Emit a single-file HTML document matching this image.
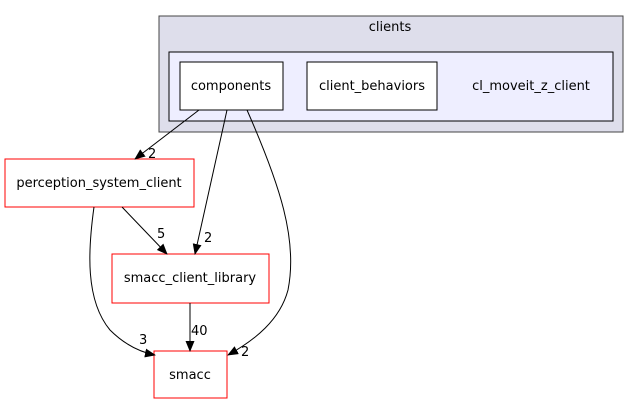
<!DOCTYPE html>
<html><head><meta charset="utf-8"><style>
html,body{margin:0;padding:0;background:#fff;}
svg{display:block;}
text{font-family:"DejaVu Sans","Liberation Sans",sans-serif;font-size:13px;fill:#000;}
</style></head><body>
<svg width="640" height="404" viewBox="0 0 640 404" xmlns="http://www.w3.org/2000/svg">
<defs><marker id="a" markerWidth="11" markerHeight="9" refX="10" refY="4.5" orient="auto" markerUnits="userSpaceOnUse"><path d="M0,0 L11,4.5 L0,9 z" fill="#000"/></marker></defs>
<rect x="159" y="16" width="464" height="116" fill="#dedeeb" stroke="#444" stroke-width="1"/>
<text x="390" y="31" text-anchor="middle" font-size="12">clients</text>
<rect x="169" y="52" width="444" height="69" fill="#eeeeff" stroke="#000"/>
<text x="531" y="90" text-anchor="middle">cl_moveit_z_client</text>
<rect x="180" y="62" width="103" height="48" fill="#fff" stroke="#000"/>
<text x="231" y="90" text-anchor="middle">components</text>
<rect x="307" y="62" width="130" height="48" fill="#fff" stroke="#000"/>
<text x="372" y="90" text-anchor="middle">client_behaviors</text>
<rect x="5" y="159" width="189" height="48" fill="#fff" stroke="#f00"/>
<text x="99" y="187" text-anchor="middle">perception_system_client</text>
<rect x="112" y="254" width="157" height="49" fill="#fff" stroke="#f00"/>
<text x="190" y="282" text-anchor="middle">smacc_client_library</text>
<rect x="154" y="351" width="73" height="47" fill="#fff" stroke="#f00"/>
<text x="190" y="379" text-anchor="middle">smacc</text>
<g stroke="#000" fill="none" stroke-width="1">
<path d="M199,110 L135,159" marker-end="url(#a)"/>
<path d="M227,110 L195,254" marker-end="url(#a)"/>
<path d="M247,110 C280,185 298,240 288,290 C280,320 255,340 228,355" marker-end="url(#a)"/>
<path d="M122,207 L167,254" marker-end="url(#a)"/>
<path d="M94,207 C88,250 85,300 110,330 C125,345 140,352 155,355" marker-end="url(#a)"/>
<path d="M190,303 L190,351" marker-end="url(#a)"/>
</g>
<text x="148" y="158">2</text>
<text x="204" y="242">2</text>
<text x="241" y="356">2</text>
<text x="157" y="238">5</text>
<text x="139" y="344">3</text>
<text x="191" y="335">40</text>
</svg>
</body></html>
